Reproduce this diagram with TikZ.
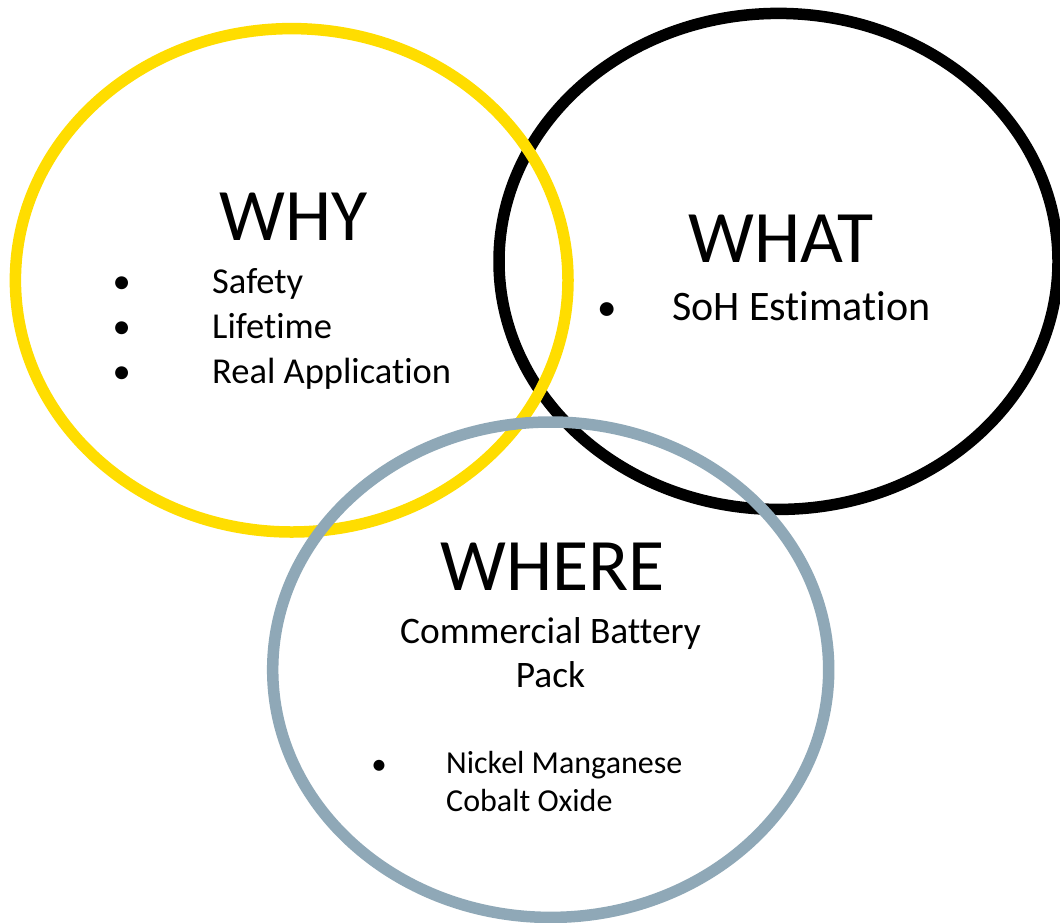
\documentclass[tikz,border=0pt]{standalone}
\usepackage{fontspec}
\setmainfont{Carlito}[Ligatures={NoCommon,NoRare}]
\definecolor{ringyellow}{HTML}{FFDD00}
\definecolor{ringgray}{HTML}{8FA8B7}
\tikzset{
  ring/.style={line width=11.5bp},
  title/.style={inner sep=0pt, font=\fontsize{74bp}{90bp}\selectfont},
  item/.style={inner sep=0pt, font=\fontsize{36.5bp}{44bp}\selectfont, anchor=base west},
  bul/.style={inner sep=0pt, font=\fontsize{36.5bp}{44bp}\selectfont, anchor=base},
}
\begin{document}
\begin{tikzpicture}[x=1bp,y=-1bp]
\useasboundingbox (0,0) rectangle (1060,923);
\fill[white] (0,0) rectangle (1060,923);
% rings
\draw[ring, black] (778.5,261.4) ellipse [x radius=279.5bp, y radius=248bp];
\draw[ring, ringyellow] (291.7,280.3) ellipse [x radius=276.3bp, y radius=251.7bp];
\draw[ring, ringgray] (550.7,669.7) ellipse [x radius=278bp, y radius=247.7bp];
% WHY
\node[title, anchor=base west] (why) at (219,240) {WHY};
\node[bul] (b1) at (121.7,293) {•};
\node[bul] (b2) at (121.7,338.5) {•};
\node[bul] (b3) at (121.7,383) {•};
\node[item] (safety) at (212,293) {Safety};
\node[item] (lifetime) at (212,338.5) {Lifetime};
\node[item] (realapp) at (212,383) {Real Application};
% WHAT
\node[title, anchor=base west] (what) at (688,262) {WHAT};
\node[bul, font=\fontsize{39bp}{46bp}\selectfont] (b4) at (607.6,320) {•};
\node[item, font=\fontsize{42bp}{48bp}\selectfont] (soh) at (672,320) {SoH Estimation};
% WHERE
\node[title, anchor=base west] (where) at (440,590) {WHERE};
\node[bul, font=\fontsize{37.4bp}{44bp}\selectfont] (comm) at (550.5,643) {Commercial Battery};
\node[bul, font=\fontsize{37.4bp}{44bp}\selectfont] (pack) at (550.5,687) {Pack};
\node[bul, font=\fontsize{31bp}{38bp}\selectfont] (b5) at (379,774) {•};
\node[item, font=\fontsize{32bp}{38bp}\selectfont] (nickel) at (446,773) {Nickel Manganese};
\node[item, font=\fontsize{32bp}{38bp}\selectfont] (cobalt) at (446,811) {Cobalt Oxide};
\end{tikzpicture}
\end{document}
